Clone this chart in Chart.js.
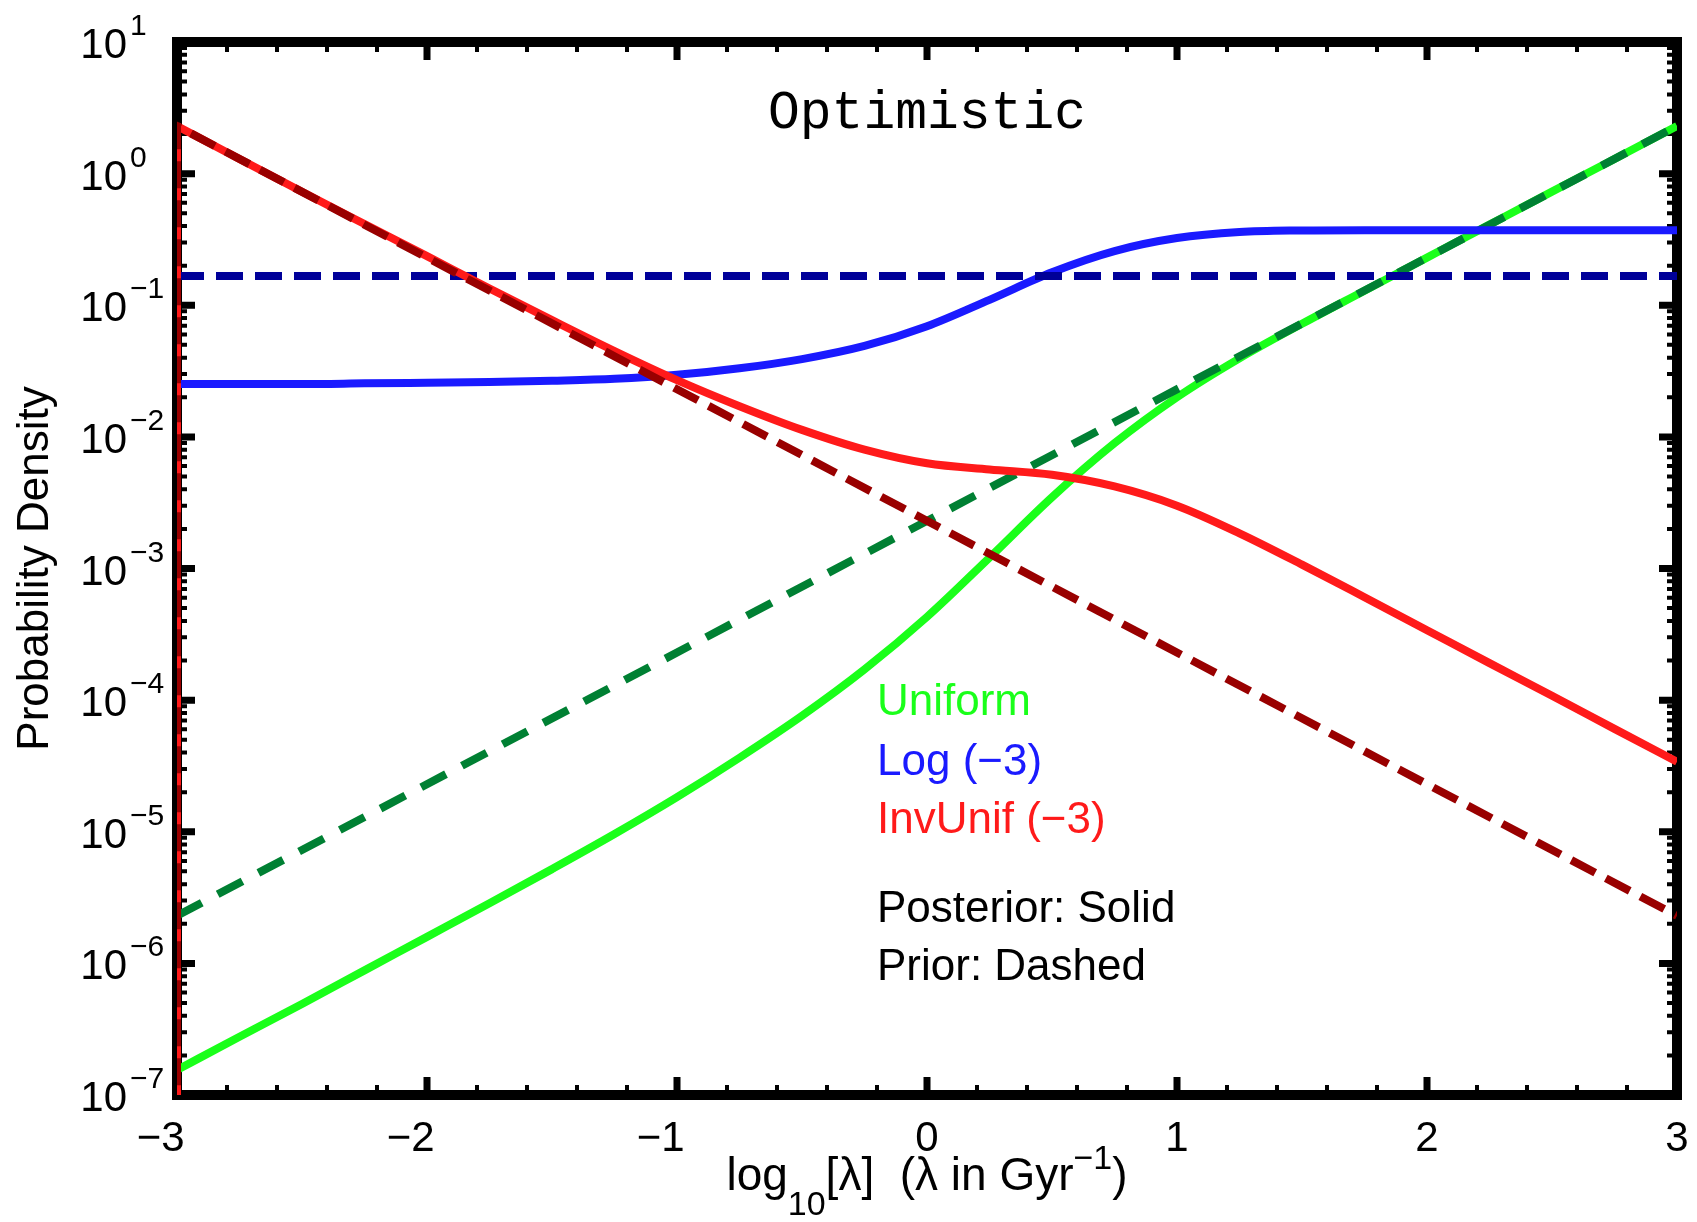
<!DOCTYPE html>
<html>
<head>
<meta charset="utf-8">
<title>Optimistic</title>
<script src="https://cdn.jsdelivr.net/npm/chart.js@4.4.1/dist/chart.umd.min.js"></script>
<style>
  html, body { margin: 0; padding: 0; background: #fff; }
  canvas { display: block; }
</style>
</head>
<body>
<canvas id="densityChart" width="1697" height="1222"></canvas>
<script>
// log10(lambda) grid the posterior curves were read on
var lambdaGrid = [-3, -2.75, -2.5, -2.25, -2, -1.75, -1.5, -1.25, -1, -0.75, -0.5, -0.25,
                  0, 0.25, 0.5, 0.75, 1, 1.25, 1.5, 1.75, 2, 2.25, 2.5, 2.75, 3];

// posteriors (solid lines)
var uniformPost = [1.55e-7, 2.77e-7, 4.92e-7, 8.85e-7, 1.59e-6, 2.86e-6, 5.2e-6, 9.6e-6, 1.83e-5, 3.65e-5,
                   7.6e-5, 1.71e-4, 4.29e-4, 1.21e-3, 3.48e-3, 8.95e-3, 2.0e-2, 3.95e-2, 7.23e-2, 0.129,
                   0.23, 0.41, 0.73, 1.29, 2.3];
var logPost = [0.0252, 0.0252, 0.0252, 0.0255, 0.0258, 0.0261, 0.0267, 0.0276, 0.0296, 0.0332,
               0.039, 0.0491, 0.0693, 0.11, 0.178, 0.258, 0.324, 0.36, 0.37, 0.372,
               0.372, 0.372, 0.372, 0.372, 0.372];
var invUnifPost = [2.3, 1.29, 0.728, 0.414, 0.236, 0.134, 0.0771, 0.0449, 0.027, 0.0171,
                   0.0113, 0.008, 0.0063, 0.00565, 0.00515, 0.0042, 0.003, 0.00185, 0.00107, 6.05e-4,
                   3.4e-4, 1.91e-4, 1.08e-4, 6.05e-5, 3.4e-5];

// priors (dashed lines), straight in log-log so only the ends are needed
var priorGrid = [-3, 3];
var uniformPrior = [2.3e-6, 2.3];
var logPrior = [0.167, 0.167];
var invUnifPrior = [2.3, 2.3e-6];

// both InvUnif curves fall to ~0 at the left edge
var dropGrid = [-3, -3];
var invUnifDrop = [1e-9, 2.3];

// axis ticks
var xTickValues = [-3, -2, -1, 0, 1, 2, 3];
var xTickLabels = ['\u22123', '\u22122', '\u22121', '0', '1', '2', '3'];
var yTickValues = [10, 1, 0.1, 0.01, 1e-3, 1e-4, 1e-5, 1e-6, 1e-7];
var yTickExponents = ['1', '0', '\u22121', '\u22122', '\u22123', '\u22124', '\u22125', '\u22126', '\u22127'];

var legendNames = ['Uniform', 'Log (\u22123)', 'InvUnif (\u22123)'];
var legendColors = ['#1aff1a', '#1a1aff', '#ff1a1a'];

var SANS = '"Liberation Sans", Arial, Helvetica, sans-serif';

function pts(xs, ys) {
  return xs.map(function(x, i) { return {x: x, y: ys[i]}; });
}

// black box with inward ticks on all four sides
var axesBox = {
  id: 'axesBox',
  beforeDatasetsDraw: function(chart) {
    var ctx = chart.ctx, a = chart.chartArea;
    var xs = chart.scales.x, ys = chart.scales.y;
    ctx.save();
    ctx.strokeStyle = '#000';
    ctx.lineWidth = 10;
    ctx.strokeRect(a.left, a.top, a.right - a.left, a.bottom - a.top);

    for (var i = 0; i <= 30; i++) {
      var major = i % 5 === 0;
      var px = xs.getPixelForValue(-3 + i * 0.2);
      var len = major ? 18 : 10;
      ctx.lineWidth = major ? 7 : 4;
      ctx.beginPath();
      ctx.moveTo(px, a.bottom); ctx.lineTo(px, a.bottom - len);
      ctx.moveTo(px, a.top); ctx.lineTo(px, a.top + len);
      ctx.stroke();
    }
    for (var e = -7; e <= 1; e++) {
      for (var k = 1; k <= 9; k++) {
        if (e === 1 && k > 1) break;
        var py = ys.getPixelForValue(k * Math.pow(10, e));
        var l = k === 1 ? 18 : 10;
        ctx.lineWidth = k === 1 ? 7 : 4;
        ctx.beginPath();
        ctx.moveTo(a.left, py); ctx.lineTo(a.left + l, py);
        ctx.moveTo(a.right, py); ctx.lineTo(a.right - l, py);
        ctx.stroke();
      }
    }
    ctx.restore();
  }
};

var textLayer = {
  id: 'textLayer',
  afterDraw: function(chart) {
    var ctx = chart.ctx, a = chart.chartArea;
    var xs = chart.scales.x, ys = chart.scales.y;
    var midX = (a.left + a.right) / 2;
    ctx.save();
    ctx.fillStyle = '#000';
    ctx.textBaseline = 'alphabetic';

    // y tick labels: 10^n
    yTickValues.forEach(function(v, i) {
      var py = ys.getPixelForValue(v);
      ctx.font = '42px ' + SANS;
      ctx.textAlign = 'right';
      ctx.fillText('10', a.left - 50, py + 16);
      ctx.font = '30px ' + SANS;
      ctx.textAlign = 'left';
      ctx.fillText(yTickExponents[i], a.left - 47, py - 7);
    });

    // x tick labels, minus sign hangs left of the digit
    ctx.font = '42px ' + SANS;
    xTickValues.forEach(function(v, i) {
      var px = xs.getPixelForValue(v);
      var s = xTickLabels[i];
      if (v < 0) {
        var dw = ctx.measureText(s.slice(1)).width;
        ctx.textAlign = 'right';
        ctx.fillText(s, px + dw / 2 - 4, a.bottom + 56);
      } else {
        ctx.textAlign = 'center';
        ctx.fillText(s, px, a.bottom + 56);
      }
    });

    // x axis title with sub/superscripts
    var parts = [
      {t: 'log', f: 46, dy: 0},
      {t: '10', f: 34, dy: 25},
      {t: '[\u03bb]  (\u03bb in Gyr', f: 46, dy: 0},
      {t: '\u22121', f: 34, dy: -21},
      {t: ')', f: 46, dy: 0}
    ];
    var total = 0;
    parts.forEach(function(p) {
      ctx.font = p.f + 'px ' + SANS;
      p.w = ctx.measureText(p.t).width;
      total += p.w;
    });
    var cx = midX - total / 2;
    ctx.textAlign = 'left';
    parts.forEach(function(p) {
      ctx.font = p.f + 'px ' + SANS;
      ctx.fillText(p.t, cx, 1190 + p.dy);
      cx += p.w;
    });

    // y axis title
    ctx.save();
    ctx.translate(48, (a.top + a.bottom) / 2);
    ctx.rotate(-Math.PI / 2);
    ctx.font = '44px ' + SANS;
    ctx.textAlign = 'center';
    ctx.fillText('Probability Density', 0, 0);
    ctx.restore();

    // title inside the box
    ctx.font = '53px "Liberation Mono", "Courier New", monospace';
    ctx.textAlign = 'center';
    ctx.fillText('Optimistic', midX, a.top + 86);

    // legend text
    ctx.font = '44px ' + SANS;
    ctx.textAlign = 'left';
    var lx = xs.getPixelForValue(-0.2);
    var rows = [715, 775, 833];
    legendNames.forEach(function(n, i) {
      ctx.fillStyle = legendColors[i];
      ctx.fillText(n, lx, rows[i]);
    });
    ctx.fillStyle = '#000';
    ctx.fillText('Posterior: Solid', lx, 922);
    ctx.fillText('Prior: Dashed', lx, 980);
    ctx.restore();
  }
};

var solid = {borderWidth: 8, pointRadius: 0, fill: false, cubicInterpolationMode: 'monotone'};
var dashed = {borderWidth: 8, pointRadius: 0, fill: false, tension: 0, borderDash: [27, 12]};

new Chart(document.getElementById('densityChart'), {
  type: 'line',
  data: {
    datasets: [
      Object.assign({label: 'InvUnif prior', data: pts(dropGrid, invUnifDrop).concat(pts(priorGrid, invUnifPrior)),
                     borderColor: '#990000', order: 0}, dashed),
      Object.assign({label: 'InvUnif posterior edge', data: pts(dropGrid, invUnifDrop),
                     borderColor: '#ff1a1a', order: 1}, solid, {cubicInterpolationMode: 'default', tension: 0}),
      Object.assign({label: 'InvUnif posterior', data: pts(lambdaGrid, invUnifPost),
                     borderColor: '#ff1a1a', order: 1}, solid),
      Object.assign({label: 'Log prior', data: pts(priorGrid, logPrior),
                     borderColor: '#000099', order: 2}, dashed),
      Object.assign({label: 'Log posterior', data: pts(lambdaGrid, logPost),
                     borderColor: '#1a1aff', order: 3}, solid),
      Object.assign({label: 'Uniform prior', data: pts(priorGrid, uniformPrior),
                     borderColor: '#008033', order: 4}, dashed, {borderDash: [28, 18]}),
      Object.assign({label: 'Uniform posterior', data: pts(lambdaGrid, uniformPost),
                     borderColor: '#1aff1a', order: 5}, solid)
    ]
  },
  options: {
    responsive: false,
    animation: false,
    devicePixelRatio: 1,
    layout: {padding: {left: 177, right: 20, top: 42, bottom: 127}},
    plugins: {legend: {display: false}, tooltip: {enabled: false}},
    scales: {
      x: {type: 'linear', display: false, min: -3, max: 3},
      y: {type: 'logarithmic', display: false, min: 1e-7, max: 10}
    }
  },
  plugins: [axesBox, textLayer]
});
</script>
</body>
</html>
